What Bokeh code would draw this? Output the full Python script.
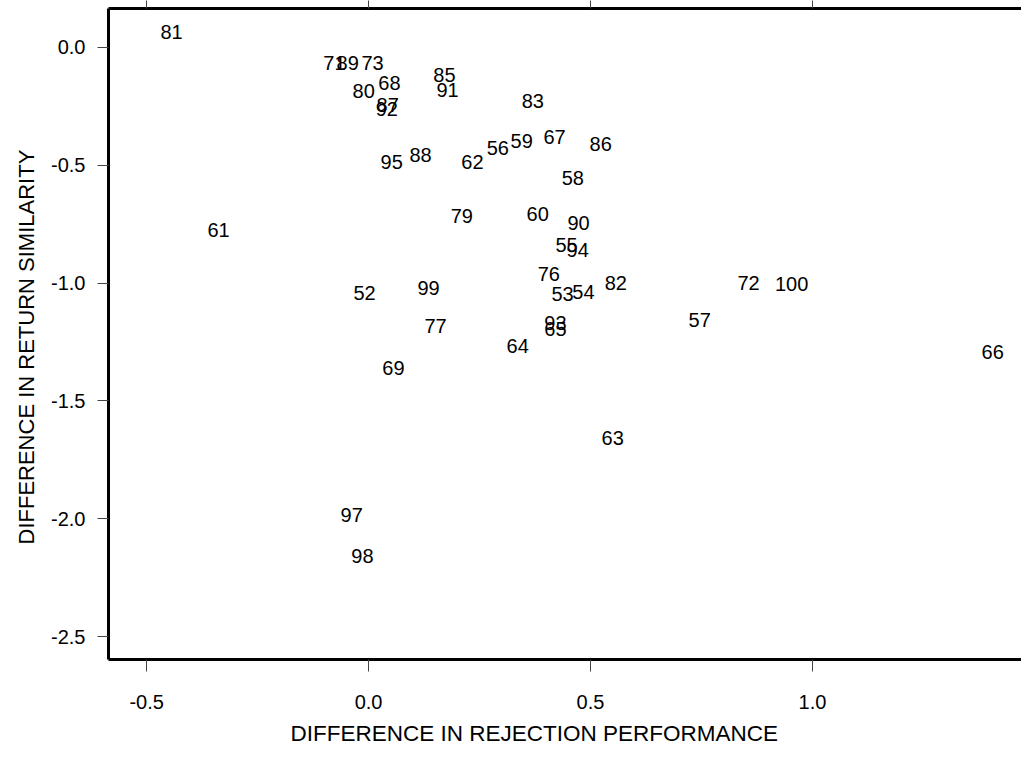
from bokeh.plotting import figure
from bokeh.models import (LinearAxis, FixedTicker, Range1d, ColumnDataSource, Title,
                          CustomJSTickFormatter)
from bokeh.core.properties import value
from bokeh.embed import file_html
from bokeh.resources import INLINE

# data: label, rejection-performance difference (x), return-similarity difference (y)
labels = ["81", "71", "89", "73", "80", "68", "87", "92", "85", "91", "83",
          "95", "88", "62", "56", "59", "67", "86", "58", "79", "60", "90",
          "55", "94", "76", "53", "54", "82", "99", "52", "77", "93", "65",
          "64", "69", "61", "72", "100", "57", "63", "66", "97", "98"]
x_vals = [-0.444, -0.077, -0.047, 0.009, -0.011, 0.047, 0.043, 0.041, 0.171, 0.178, 0.370,
          0.052, 0.117, 0.234, 0.291, 0.345, 0.419, 0.523, 0.460, 0.210, 0.381, 0.473,
          0.446, 0.471, 0.406, 0.437, 0.484, 0.557, 0.135, -0.009, 0.151, 0.421, 0.421,
          0.336, 0.056, -0.338, 0.856, 0.953, 0.746, 0.550, 1.406, -0.038, -0.014]
y_vals = [0.064, -0.068, -0.068, -0.068, -0.186, -0.153, -0.246, -0.263, -0.119, -0.182, -0.229,
          -0.487, -0.458, -0.487, -0.428, -0.398, -0.381, -0.411, -0.555, -0.716, -0.708, -0.746,
          -0.839, -0.860, -0.962, -1.047, -1.038, -1.000, -1.021, -1.042, -1.182, -1.169, -1.195,
          -1.267, -1.360, -0.775, -1.000, -1.004, -1.157, -1.657, -1.292, -1.983, -2.157]
x_ticks = [-0.5, 0.0, 0.5, 1.0]
y_ticks = [0.0, -0.5, -1.0, -1.5, -2.0, -2.5]
x_title = "DIFFERENCE IN REJECTION PERFORMANCE"
y_title = "DIFFERENCE IN RETURN SIMILARITY"

FONT = "Liberation Sans"

p = figure(width=1021, height=757, output_backend="svg", toolbar_location=None,
           x_range=Range1d(-0.586, 1.471), y_range=Range1d(-2.597, 0.165),
           x_axis_location=None, y_axis_location=None,
           min_border_left=108, min_border_right=0, min_border_bottom=97, min_border_top=8)
p.outline_line_color = None
p.grid.visible = False
p.background_fill_color = "white"
p.border_fill_color = "white"

src = ColumnDataSource(dict(x=x_vals, y=y_vals, t=labels))
p.text(x="x", y="y", text="t", source=src, text_align="center", text_baseline="middle",
       text_font=value(FONT), text_font_size="20px", text_color="black")

fmt = CustomJSTickFormatter(code="return tick.toFixed(1);")


def style_axis(ax, ticks, out):
    ax.ticker = FixedTicker(ticks=ticks)
    ax.axis_line_width = 3
    ax.axis_line_color = "black"
    ax.major_tick_line_color = "#444444"
    ax.major_tick_line_width = 1
    ax.major_tick_in = 0
    ax.major_tick_out = out
    ax.minor_tick_line_color = None
    ax.major_label_text_font = FONT
    ax.major_label_text_font_size = "20px"
    ax.major_label_text_color = "black"


left = LinearAxis(formatter=fmt)
style_axis(left, y_ticks, 11)
left.major_label_standoff = 12
left.major_label_orientation = "horizontal"
p.add_layout(left, "left")

bottom = LinearAxis(formatter=fmt)
style_axis(bottom, x_ticks, 12)
bottom.major_label_standoff = 23
p.add_layout(bottom, "below")

top = LinearAxis(formatter=CustomJSTickFormatter(code="return '';"))
style_axis(top, x_ticks, 8)
top.major_label_standoff = 0
top.major_label_text_font_size = "1px"
p.add_layout(top, "above")

p.add_layout(Title(text=x_title, align="left", offset=182, standoff=19, vertical_align="top",
                   text_font=FONT, text_font_size="22.5px", text_font_style="normal",
                   text_color="black"), "below")
p.add_layout(Title(text=y_title, align="left", offset=115, standoff=19,
                   text_font=FONT, text_font_size="22px", text_font_style="normal",
                   text_color="black"), "left")

open("out.html", "w").write(file_html(p, INLINE))
